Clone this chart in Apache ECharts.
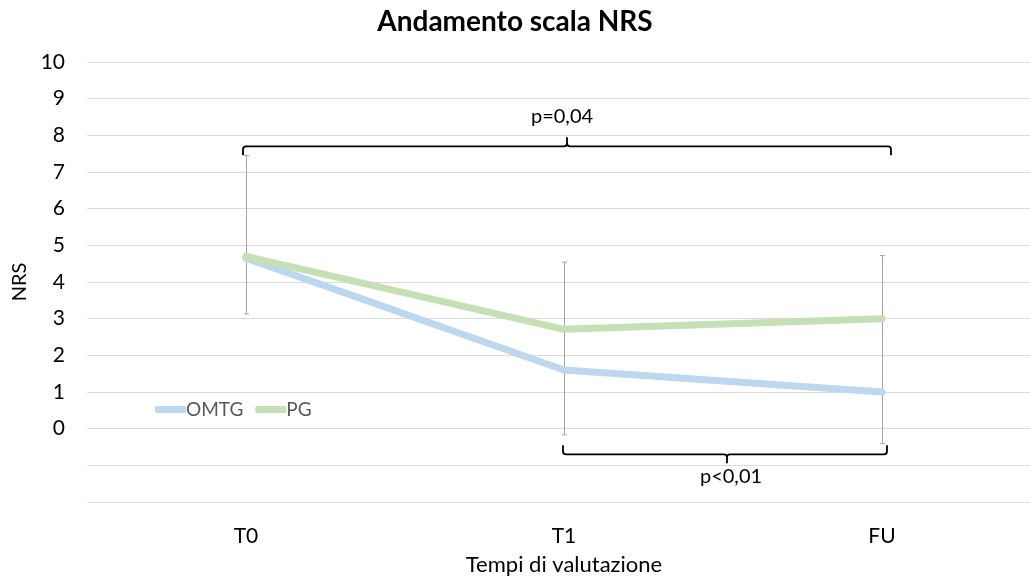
<!DOCTYPE html>
<html>
<head>
<meta charset="utf-8">
<script src="https://cdn.jsdelivr.net/npm/echarts@6/dist/echarts.min.js"></script>
<style>
html,body{margin:0;padding:0;background:#fff;}
#chart{width:1030px;height:577px;}
</style>
</head>
<body>
<div id="chart"></div>
<script>
// ---- data ----
const categories = ['T0', 'T1', 'FU'];
const omtgValues = [4.65, 1.6, 1.0];
const pgValues = [4.7, 2.71, 3.0];
const errLow = [3.13, -0.17, -0.41];
const errHigh = [7.45, 4.54, 4.72];
const bracketFrom = [0, 1];
const bracketTo = [2, 2];
const bracketY = [7.7, -0.7];
const bracketLabels = ['p=0,04', 'p<0,01'];
const bracketSide = [1, -1]; // 1: label above, -1: label below
const yTickMin = -2, yTickMax = 10;

const FONT = 'Lato, "Open Sans", sans-serif';
const chart = echarts.init(document.getElementById('chart'));

const errData = categories.map((c, i) => [i, errLow[i], errHigh[i]]);
const bracketData = bracketFrom.map((f, i) => [f, bracketTo[i], bracketY[i], bracketSide[i], i]);

chart.setOption({
  animation: false,
  title: {
    text: 'Andamento scala NRS',
    left: 'center', top: 3,
    textStyle: {fontFamily: FONT, fontWeight: 'bold', fontSize: 28, color: '#000'}
  },
  legend: {
    data: ['OMTG', 'PG'],
    left: 150, top: 395,
    itemWidth: 31, itemHeight: 7, itemGap: 12,
    icon: 'roundRect',
    textStyle: {fontFamily: FONT, fontSize: 19, color: '#595959', padding: [0, 0, 0, -5]}
  },
  grid: {left: 87, top: 62, width: 954, height: 440, containLabel: false, outerBoundsMode: 'none'},
  xAxis: {
    type: 'category',
    data: categories,
    boundaryGap: true,
    axisLine: {show: false},
    axisTick: {show: false},
    axisLabel: {fontFamily: FONT, fontSize: 21, color: '#000', margin: 24},
    name: 'Tempi di valutazione',
    nameLocation: 'middle',
    nameGap: 52,
    nameTextStyle: {fontFamily: FONT, fontSize: 22, color: '#000'}
  },
  yAxis: {
    type: 'value',
    min: yTickMin, max: yTickMax, interval: 1,
    axisLine: {show: false},
    axisTick: {show: false},
    splitLine: {lineStyle: {color: '#DCDCDC', width: 1}},
    axisLabel: {
      fontFamily: FONT, fontSize: 21, color: '#000', margin: 22,
      formatter: v => (v < 0 ? '' : String(v))
    },
    name: 'NRS',
    nameLocation: 'middle',
    nameGap: 46,
    nameTextStyle: {fontFamily: FONT, fontSize: 20, color: '#000'}
  },
  series: [
    {
      name: 'OMTG', type: 'line', data: omtgValues,
      symbol: 'none', z: 3,
      lineStyle: {color: '#BDD7EE', width: 7, cap: 'round', join: 'round'},
      itemStyle: {color: '#BDD7EE'}
    },
    {
      name: 'PG', type: 'line', data: pgValues,
      symbol: 'none', z: 4,
      lineStyle: {color: '#C5E0B4', width: 7, cap: 'round', join: 'round'},
      itemStyle: {color: '#C5E0B4'}
    },
    {
      name: 'err', type: 'custom', data: errData, z: 2,
      renderItem: function (params, api) {
        const lo = api.coord([api.value(0), api.value(1)]);
        const hi = api.coord([api.value(0), api.value(2)]);
        const x = Math.round(lo[0]) + 0.5;
        const st = {stroke: '#A6A6A6', lineWidth: 1};
        return {
          type: 'group',
          children: [
            {type: 'line', shape: {x1: x, y1: hi[1], x2: x, y2: lo[1]}, style: st},
            {type: 'line', shape: {x1: x - 2.5, y1: hi[1], x2: x + 2.5, y2: hi[1]}, style: st},
            {type: 'line', shape: {x1: x - 2.5, y1: lo[1], x2: x + 2.5, y2: lo[1]}, style: st}
          ]
        };
      }
    },
    {
      name: 'brackets', type: 'custom', data: bracketData, z: 5,
      renderItem: function (params, api) {
        const idx = api.value(4);
        const a = api.coord([api.value(0), api.value(2)]);
        const b = api.coord([api.value(1), api.value(2)]);
        const side = api.value(3);
        const offL = side > 0 ? -3 : -1;
        const offR = side > 0 ? 9 : 5;
        const x1 = a[0] + offL, x2 = b[0] + offR, y = a[1];
        const xm = (x1 + x2) / 2 + (side > 0 ? 0 : 2);
        const d = side;
        const h = 9, r = 3, t = 9;
        const path =
          'M' + x1 + ',' + (y + d * h) +
          ' L' + x1 + ',' + (y + d * r) +
          ' Q' + x1 + ',' + y + ' ' + (x1 + r) + ',' + y +
          ' L' + (xm - r) + ',' + y +
          ' Q' + xm + ',' + y + ' ' + xm + ',' + (y - d * r) +
          ' L' + xm + ',' + (y - d * t) +
          ' M' + xm + ',' + (y - d * r) +
          ' Q' + xm + ',' + y + ' ' + (xm + r) + ',' + y +
          ' L' + (x2 - r) + ',' + y +
          ' Q' + x2 + ',' + y + ' ' + x2 + ',' + (y + d * r) +
          ' L' + x2 + ',' + (y + d * h);
        const labelY = side > 0 ? y - 30 : y + 22;
        return {
          type: 'group',
          children: [
            {type: 'path', shape: {pathData: path}, style: {stroke: '#000', lineWidth: 1.8, fill: null}},
            {type: 'text', style: {
              text: bracketLabels[idx], x: xm + (side > 0 ? -5 : 4), y: labelY,
              textAlign: 'center', textVerticalAlign: 'middle',
              font: '20px ' + FONT, fill: '#000'
            }}
          ]
        };
      }
    }
  ]
});
</script>
</body>
</html>
